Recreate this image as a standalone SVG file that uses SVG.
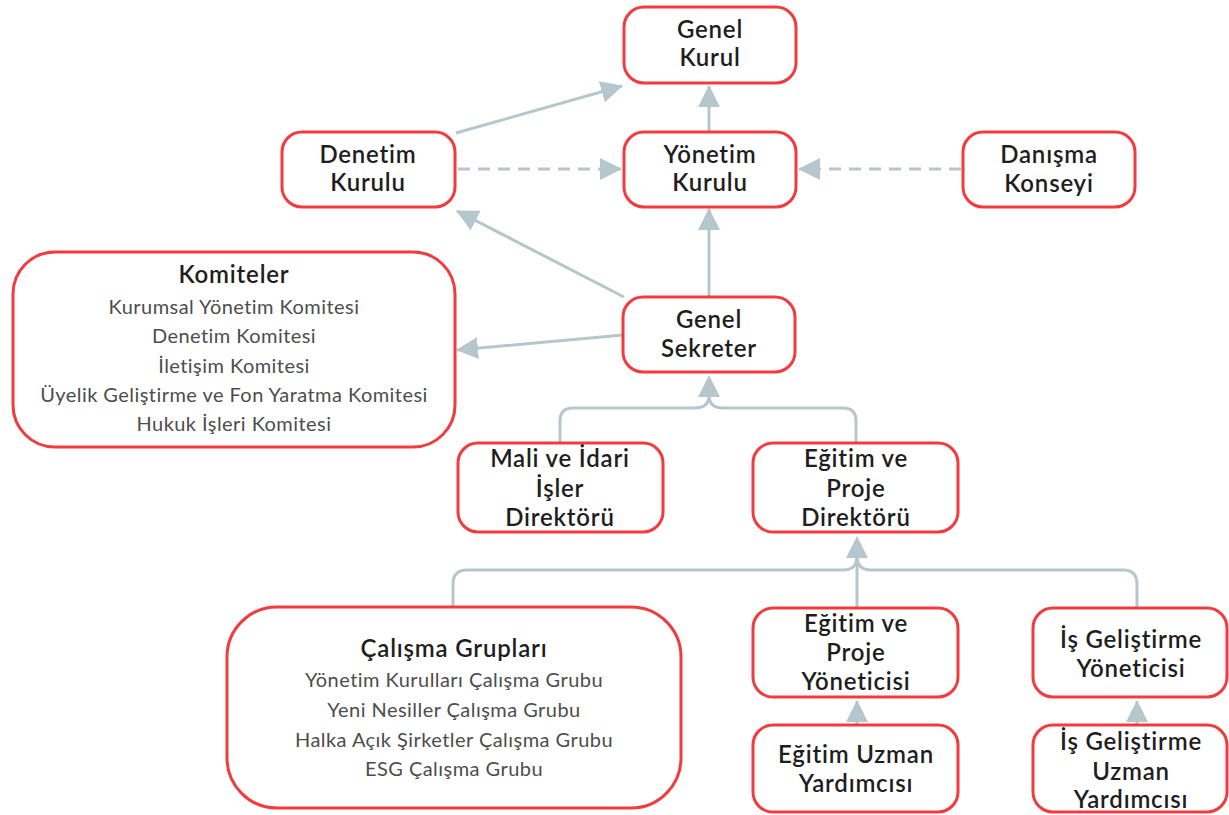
<svg xmlns="http://www.w3.org/2000/svg" width="1229" height="815" viewBox="0 0 1229 815">
<defs>
<style>
.box{fill:#fff;stroke:#f23b3f;stroke-width:3}
.t{font-family:Lato,"Open Sans","Liberation Sans",sans-serif;font-size:24px;letter-spacing:0.8px;font-weight:600;fill:#1e1e1e;text-anchor:middle}
.s{font-family:Lato,"Open Sans","Liberation Sans",sans-serif;font-size:20px;letter-spacing:0.45px;font-weight:400;fill:#4d4d4d;text-anchor:middle}
.c{fill:none;stroke:#b6c6cd;stroke-width:3}
.d{stroke-dasharray:12 8}
.ah{fill:#b6c6cd}
</style>
<marker id="arr" viewBox="0 0 22 22" refX="21" refY="11" markerWidth="22" markerHeight="22" markerUnits="userSpaceOnUse" orient="auto">
<path d="M0,0 L22,11 L0,22 Z" fill="#b6c6cd"/>
</marker>
</defs>
<rect width="1229" height="815" fill="#fff"/>
<g id="connectors">
<line class="c" x1="456" y1="133" x2="622" y2="86" marker-end="url(#arr)"/>
<line class="c" x1="709" y1="131" x2="709" y2="86" marker-end="url(#arr)"/>
<line class="c d" x1="458" y1="169" x2="621" y2="169" marker-end="url(#arr)"/>
<line class="c d" x1="961" y1="169" x2="799" y2="169" marker-end="url(#arr)"/>
<line class="c" x1="709" y1="297" x2="709" y2="209" marker-end="url(#arr)"/>
<line class="c" x1="624" y1="297" x2="457" y2="211" marker-end="url(#arr)"/>
<line class="c" x1="623" y1="335" x2="457" y2="350" marker-end="url(#arr)"/>
<path class="c" d="M560,443 V421 Q560,408 573,408 H695 Q709,408 709,395"/>
<path class="c" d="M856,443 V421 Q856,408 843,408 H723 Q709,408 709,395"/>
<polygon class="ah" points="709,375 720,397 698,397"/>
<path class="c" d="M453,607 V584 Q453,570 467,570 H843 Q857,570 857,556"/>
<path class="c" d="M1137,607 V584 Q1137,570 1123,570 H871 Q857,570 857,556"/>
<path class="c" d="M857,607 V556"/>
<polygon class="ah" points="857,536 868,558 846,558"/>
<line class="c" x1="857" y1="725" x2="857" y2="701" marker-end="url(#arr)"/>
<line class="c" x1="1137" y1="725" x2="1137" y2="701" marker-end="url(#arr)"/>
</g>
<g id="genel-kurul">
<rect class="box" x="624" y="7" width="172" height="76" rx="20"/>
<text class="t" x="710" y="38">Genel</text>
<text class="t" x="710" y="66">Kurul</text>
</g>
<g id="denetim-kurulu">
<rect class="box" x="282" y="132" width="173" height="75" rx="20"/>
<text class="t" x="368" y="163">Denetim</text>
<text class="t" x="368" y="191">Kurulu</text>
</g>
<g id="yonetim-kurulu">
<rect class="box" x="624" y="132" width="172" height="75" rx="20"/>
<text class="t" x="710" y="163">Yönetim</text>
<text class="t" x="710" y="191">Kurulu</text>
</g>
<g id="danisma-konseyi">
<rect class="box" x="963" y="132" width="172" height="75" rx="20"/>
<text class="t" x="1049" y="163">Danışma</text>
<text class="t" x="1049" y="192">Konseyi</text>
</g>
<g id="komiteler">
<rect class="box" x="13" y="252" width="442" height="195" rx="42"/>
<text class="t" x="234" y="283">Komiteler</text>
<text class="s" x="234" y="314">Kurumsal Yönetim Komitesi</text>
<text class="s" x="234" y="343">Denetim Komitesi</text>
<text class="s" x="234" y="373">İletişim Komitesi</text>
<text class="s" x="234" y="402">Üyelik Geliştirme ve Fon Yaratma Komitesi</text>
<text class="s" x="234" y="431">Hukuk İşleri Komitesi</text>
</g>
<g id="genel-sekreter">
<rect class="box" x="623" y="297" width="172" height="75" rx="20"/>
<text class="t" x="709" y="328">Genel</text>
<text class="t" x="709" y="357">Sekreter</text>
</g>
<g id="mali-idari">
<rect class="box" x="458" y="443" width="205" height="89" rx="20"/>
<text class="t" x="560" y="467">Mali ve İdari</text>
<text class="t" x="560" y="497">İşler</text>
<text class="t" x="560" y="526">Direktörü</text>
</g>
<g id="egitim-proje-direktoru">
<rect class="box" x="753" y="443" width="205" height="89" rx="20"/>
<text class="t" x="856" y="467">Eğitim ve</text>
<text class="t" x="856" y="497">Proje</text>
<text class="t" x="856" y="526">Direktörü</text>
</g>
<g id="calisma-gruplari">
<rect class="box" x="227" y="607" width="454" height="201" rx="50"/>
<text class="t" x="454" y="657">Çalışma Grupları</text>
<text class="s" x="454" y="687">Yönetim Kurulları Çalışma Grubu</text>
<text class="s" x="454" y="717">Yeni Nesiller Çalışma Grubu</text>
<text class="s" x="454" y="747">Halka Açık Şirketler Çalışma Grubu</text>
<text class="s" x="454" y="776">ESG Çalışma Grubu</text>
</g>
<g id="egitim-proje-yoneticisi">
<rect class="box" x="753" y="608" width="205" height="89" rx="20"/>
<text class="t" x="856" y="632">Eğitim ve</text>
<text class="t" x="856" y="661">Proje</text>
<text class="t" x="856" y="690">Yöneticisi</text>
</g>
<g id="is-gelistirme-yoneticisi">
<rect class="box" x="1033" y="608" width="194" height="89" rx="20"/>
<text class="t" x="1131" y="648">İş Geliştirme</text>
<text class="t" x="1131" y="677">Yöneticisi</text>
</g>
<g id="egitim-uzman-yardimcisi">
<rect class="box" x="753" y="725" width="205" height="87" rx="20"/>
<text class="t" x="856" y="763">Eğitim Uzman</text>
<text class="t" x="856" y="792">Yardımcısı</text>
</g>
<g id="is-gelistirme-uzman-yardimcisi">
<rect class="box" x="1033" y="725" width="194" height="87" rx="20"/>
<text class="t" x="1131" y="750">İş Geliştirme</text>
<text class="t" x="1131" y="780">Uzman</text>
<text class="t" x="1131" y="808">Yardımcısı</text>
</g>
</svg>
